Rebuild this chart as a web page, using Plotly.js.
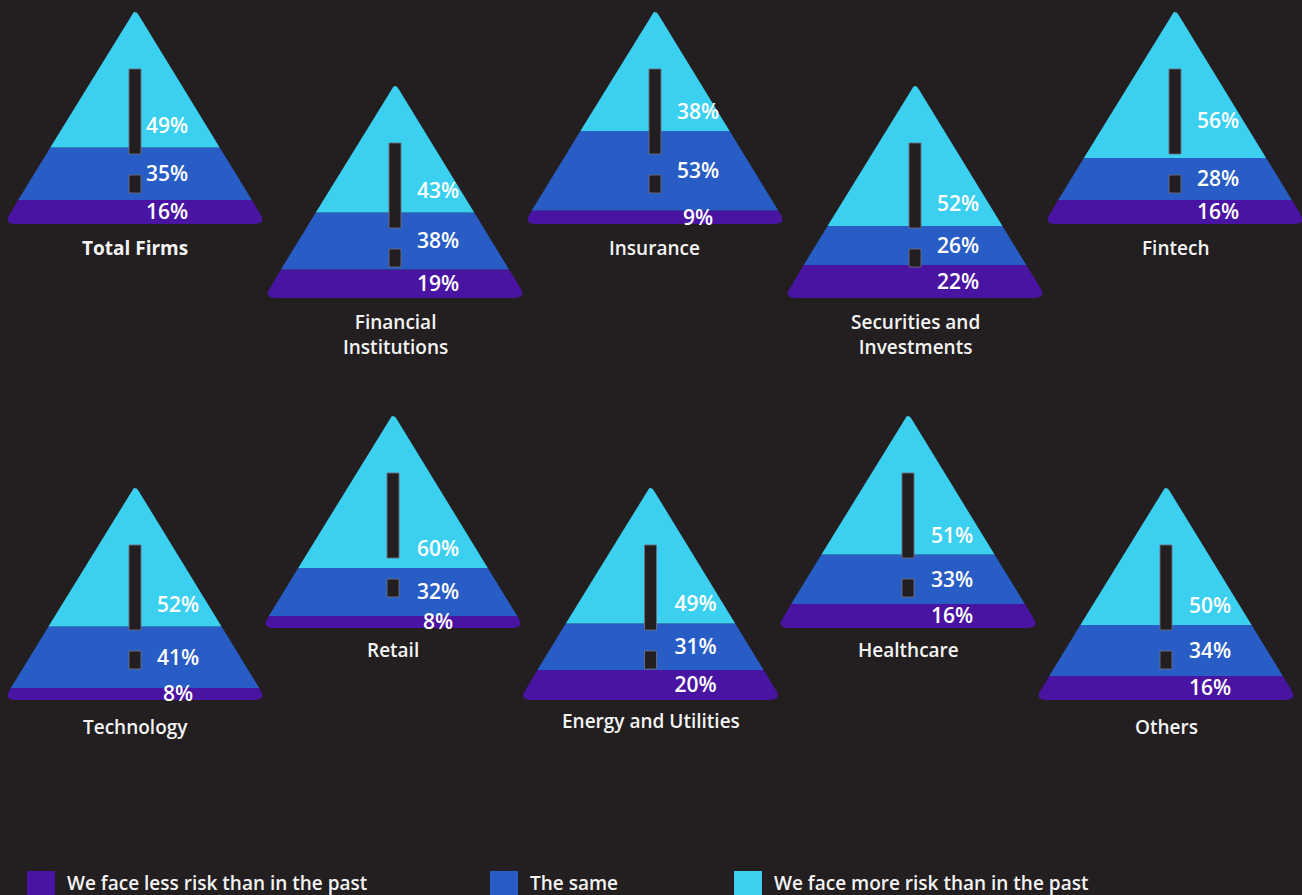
<!DOCTYPE html>
<html>
<head>
<meta charset="utf-8">
<script src="https://cdn.plot.ly/plotly-3.0.1.min.js"></script>
<style>
  html, body { margin: 0; padding: 0; background: #231f20; }
  #chart { width: 1302px; height: 895px; }
</style>
</head>
<body>
<div id="chart"></div>
<script>
// Sectors, one pyramid each
const categories = [
  "Total Firms", "Financial<br>Institutions", "Insurance", "Securities and<br>Investments", "Fintech",
  "Technology", "Retail", "Energy and Utilities", "Healthcare", "Others"
];
// Share of firms (%) per answer
const lessRisk = [16, 19, 9, 22, 16, 8, 8, 20, 16, 16];
const sameRisk = [35, 38, 53, 26, 28, 41, 32, 31, 33, 34];
const moreRisk = [49, 43, 38, 52, 56, 52, 60, 49, 51, 50];
const seriesNames = [
  "We face less risk than in the past",
  "The same",
  "We face more risk than in the past"
];

// ---- styling / placement ----
const BG = "#231f20";
const COLORS = ["#4a14a2", "#285dc6", "#3bd0ef"];
const TEXT = "#f4f4f4";
const FONT = '"Open Sans", "Noto Sans", sans-serif';

const FIG_W = 1302, FIG_H = 895;
const PX_PER_UNIT = 1.5;           // pixels per percentage point on each panel's y axis
const PANEL_H = 215;               // px from base to sharp apex
const HALF_BASE = 131.5;           // px, half of the sharp base
const TOP = PANEL_H / PX_PER_UNIT; // apex in axis units
const BOX_HALF = 140;              // half width of each panel's plotting box (px)
const BASE_R = 12, APEX_R = 7;     // corner rounding (px along the edges)

// panel centre x and base y, in page pixels
const panelX = [135, 395, 655, 915, 1175, 135, 393, 650.5, 908, 1166];
const panelBase = [224, 298, 224, 298, 224, 700, 628, 700, 628, 700];
const captionGap = [24, 24, 24, 24, 24, 27, 22, 21, 22, 27];
const labelShift = [32, 43, 43, 43, 43, 43, 45, 45, 44, 44];
const cyanLabelGap = [22, 22, 19, 22, 37, 22, 19, 20, 19, 19]; // px above the blue/cyan boundary
const LABEL_DROP = 2;              // px, nudges value labels down
const CAPTION_LINE = 24.7;         // px between caption lines
const CAPTION_PAD = 3;             // annotation inner padding (px)

// exclamation mark (px above base)
const BAR = [70, 155], DOT = [31, 49], MARK_HALF = 6;

// ---- geometry helpers (px space: x from centre, y up from base) ----
function hw(h) { return HALF_BASE * (1 - h / PANEL_H); }
function unit(a, b) {
  const dx = b[0] - a[0], dy = b[1] - a[1], L = Math.hypot(dx, dy);
  return [dx / L, dy / L];
}
function rounded(P, prev, next, d) {
  const u0 = unit(P, prev), u1 = unit(P, next);
  const q0 = [P[0] + u0[0] * d, P[1] + u0[1] * d];
  const q1 = [P[0] + u1[0] * d, P[1] + u1[1] * d];
  const pts = [];
  const N = 10;
  for (let k = 0; k <= N; k++) {
    const t = k / N, a = (1 - t) * (1 - t), b = 2 * t * (1 - t), c = t * t;
    pts.push([a * q0[0] + b * P[0] + c * q1[0], a * q0[1] + b * P[1] + c * q1[1]]);
  }
  return pts;
}
const A = [0, PANEL_H], B = [-HALF_BASE, 0], C = [HALF_BASE, 0];

function bandPolygon(lo, hi) {
  // lo, hi in axis units
  const yl = lo * PX_PER_UNIT;
  const yh = Math.min(hi * PX_PER_UNIT, PANEL_H);
  let pts = [];
  if (yl <= 0) {
    const L = [-hw(yh), yh], R = [hw(yh), yh];
    pts.push(L);
    pts = pts.concat(rounded(B, L, C, BASE_R));
    pts = pts.concat(rounded(C, B, R, BASE_R));
    pts.push(R);
  } else if (yh >= PANEL_H) {
    const L = [-hw(yl), yl], R = [hw(yl), yl];
    pts.push(L);
    pts = pts.concat(rounded(A, L, R, APEX_R));
    pts.push(R);
  } else {
    pts = [[-hw(yl), yl], [hw(yl), yl], [hw(yh), yh], [-hw(yh), yh]];
  }
  pts.push(pts[0]);
  return { x: pts.map(p => p[0]), y: pts.map(p => p[1] / PX_PER_UNIT) };
}

const traces = [];
const layout = {
  width: FIG_W, height: FIG_H,
  margin: { l: 0, r: 0, t: 0, b: 0, pad: 0 },
  paper_bgcolor: BG, plot_bgcolor: "rgba(0,0,0,0)",
  showlegend: false, hovermode: false,
  font: { family: FONT, color: TEXT },
  shapes: [], annotations: []
};

categories.forEach((cat, i) => {
  const n = i === 0 ? "" : String(i + 1);
  const xa = "x" + n, ya = "y" + n;
  const cx = panelX[i], base = panelBase[i];
  const left = Math.max(0, cx - BOX_HALF), right = Math.min(FIG_W, cx + BOX_HALF);
  layout["xaxis" + n] = {
    domain: [left / FIG_W, right / FIG_W], range: [left - cx, right - cx],
    visible: false, fixedrange: true, anchor: ya
  };
  layout["yaxis" + n] = {
    domain: [(FIG_H - base) / FIG_H, (FIG_H - base + PANEL_H) / FIG_H], range: [0, TOP],
    visible: false, fixedrange: true, anchor: xa
  };

  const c1 = lessRisk[i], c2 = lessRisk[i] + sameRisk[i];
  const bands = [[0, c1], [c1, c2], [c2, c2 + moreRisk[i] + TOP]];
  bands.forEach((bd, k) => {
    const poly = bandPolygon(bd[0], bd[1]);
    traces.push({
      type: "scatter", mode: "lines", xaxis: xa, yaxis: ya,
      x: poly.x, y: poly.y, fill: "toself", fillcolor: COLORS[k],
      line: { width: 0, color: COLORS[k] }, name: seriesNames[k],
      hoverinfo: "skip", showlegend: false
    });
  });

  // value labels
  const drop = LABEL_DROP / PX_PER_UNIT;
  traces.push({
    type: "scatter", mode: "text", xaxis: xa, yaxis: ya, cliponaxis: false,
    x: [labelShift[i], labelShift[i], labelShift[i]],
    y: [c1 / 2 - drop, (c1 + c2) / 2 - drop, c2 + cyanLabelGap[i] / PX_PER_UNIT - drop],
    text: [lessRisk[i] + "%", sameRisk[i] + "%", moreRisk[i] + "%"],
    textposition: "middle center",
    textfont: { family: FONT, size: 21, color: "#ffffff", weight: 600 },
    hoverinfo: "skip", showlegend: false
  });

  // exclamation mark
  [BAR, DOT].forEach(seg => {
    layout.shapes.push({
      type: "rect", xref: xa, yref: ya, layer: "above",
      x0: -MARK_HALF, x1: MARK_HALF,
      y0: seg[0] / PX_PER_UNIT, y1: seg[1] / PX_PER_UNIT,
      fillcolor: BG, line: { color: "rgba(110,108,130,0.9)", width: 1 }
    });
  });

  // caption (first line centred at base + gap)
  const firstLineTop = base + captionGap[i] - CAPTION_LINE / 2 - CAPTION_PAD;
  layout.annotations.push({
    xref: "paper", yref: "paper", showarrow: false,
    x: cx / FIG_W, y: 1 - firstLineTop / FIG_H,
    xanchor: "center", yanchor: "top",
    text: cat,
    font: { family: FONT, size: 19, color: TEXT, weight: i === 0 ? 700 : 600 }
  });
});

// legend row
const legendX = [27, 490, 734];
seriesNames.forEach((name, k) => {
  layout.shapes.push({
    type: "rect", xref: "paper", yref: "paper",
    x0: legendX[k] / FIG_W, x1: (legendX[k] + 28) / FIG_W,
    y0: 1 - 899 / FIG_H, y1: 1 - 871 / FIG_H,
    fillcolor: COLORS[k], line: { width: 0 }
  });
  layout.annotations.push({
    xref: "paper", yref: "paper", showarrow: false,
    x: (legendX[k] + 38) / FIG_W, y: 1 - 883 / FIG_H,
    xanchor: "left", yanchor: "middle",
    text: name, font: { family: FONT, size: 19, color: TEXT, weight: 600 }
  });
});

Plotly.newPlot("chart", traces, layout, { displayModeBar: false, staticPlot: true });
</script>
</body>
</html>
